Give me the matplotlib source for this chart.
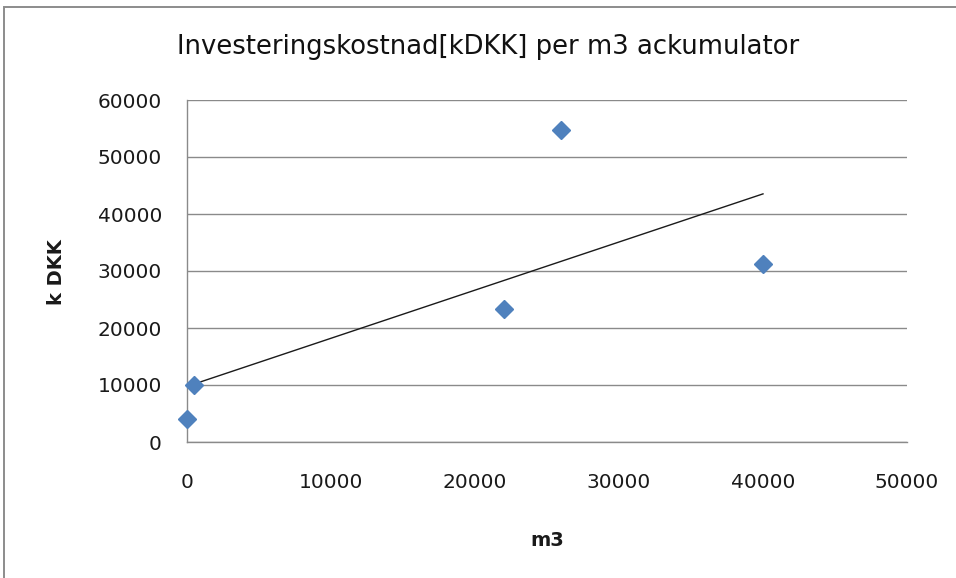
import numpy as np
import matplotlib
matplotlib.use("Agg")
import matplotlib.pyplot as plt
from matplotlib.patches import Rectangle

# Volume of the accumulator (m3) and investment cost (kDKK)
volume_m3 = [0, 500, 22000, 26000, 40000]
cost_kdkk = [4100, 10000, 23400, 54700, 31300]

x_ticks = [0, 10000, 20000, 30000, 40000, 50000]
y_ticks = [0, 10000, 20000, 30000, 40000, 50000, 60000]

title = "Investeringskostnad[kDKK] per m3 ackumulator"
x_label = "m3"
y_label = "k DKK"

plt.rcParams["font.family"] = ["DejaVu Sans"]

fig = plt.figure(figsize=(9.56, 5.78), dpi=100)
W, H = 956, 578

# outer chart frame (left and top edges visible)
fig.patches.append(Rectangle((4 / W, -0.01), 1.02, (H - 7) / H + 0.01,
                             transform=fig.transFigure, fill=False,
                             edgecolor="#8c8c8c", linewidth=1.4))

ax = fig.add_axes([187 / W, 1 - 442 / H, 720 / W, 342 / H])
ax.set_xlim(0, 50000)
ax.set_ylim(0, 60000)
ax.set_xticks(x_ticks)
ax.set_yticks(y_ticks)
ax.set_xticklabels([str(v) for v in x_ticks])
ax.set_yticklabels([str(v) for v in y_ticks])

ax.yaxis.grid(True, color="#8a8a8a", linewidth=1.0)
ax.set_axisbelow(True)
for side in ("top", "right"):
    ax.spines[side].set_visible(False)
for side in ("left", "bottom"):
    ax.spines[side].set_color("#8a8a8a")
    ax.spines[side].set_linewidth(1.0)
ax.tick_params(length=0, labelsize=14.5, colors="#1a1a1a")
ax.tick_params(axis="x", pad=22)
ax.tick_params(axis="y", pad=18)

# linear trendline over the data range
slope, intercept = np.polyfit(volume_m3, cost_kdkk, 1)
xs = np.array([min(volume_m3), max(volume_m3)])
ax.plot(xs, slope * xs + intercept, color="#1a1a1a", linewidth=1.0, zorder=3)

ax.plot(volume_m3, cost_kdkk, linestyle="none", marker="D", markersize=9.5,
        color="#4f81bd", markeredgecolor="#4f81bd", zorder=4, clip_on=False)

fig.text(488 / W, 1 - 47.5 / H, title, ha="center", va="center", fontsize=18.6,
         color="#111111")
fig.text(547 / W, 1 - 540 / H, x_label, ha="center", va="center", fontsize=14,
         fontweight="bold", color="#1a1a1a")
fig.text(57 / W, 1 - 272 / H, y_label, ha="center", va="center", fontsize=14,
         fontweight="bold", rotation=90, color="#1a1a1a")

fig.savefig("out.png", dpi=100)
